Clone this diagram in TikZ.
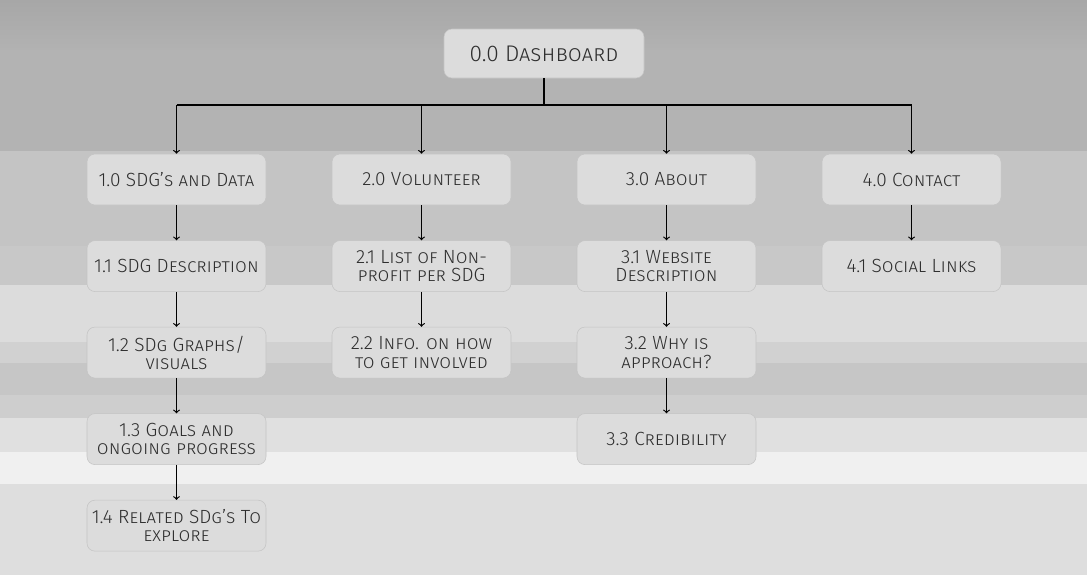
\documentclass[tikz,border=0pt]{standalone}
\usepackage{fontspec}
\setmainfont{Fira Sans Light}
\usetikzlibrary{positioning}
\definecolor{boxfill}{HTML}{DCDCDC}
\definecolor{boxline}{HTML}{C4C4C4}
\definecolor{boxtext}{HTML}{2E2E2E}

\tikzset{
  sitebox/.style={draw=boxline,fill=boxfill,rounded corners=6pt,align=center,
    text=boxtext,minimum width=134.25pt,minimum height=38.25pt,inner sep=2pt,
    font=\fontsize{14.3}{13.6}\selectfont\scshape},
  link/.style={line width=0.9pt,black}
}

\begin{document}
\begin{tikzpicture}[x=0.75pt,y=-0.75pt,>=to,node distance=26.25pt]
  % background bands
  \useasboundingbox (0,0) rectangle (1087,575);
  \shade[top color={rgb,255:red,167;green,167;blue,167},bottom color={rgb,255:red,178;green,178;blue,178}] (0,0) rectangle (1087,50);
  \foreach \ya/\yb/\g in {50/151/179,151/246/196,246/285/200,285/342/220,342/363/209,363/395/198,395/418/206,418/452/224,452/484/240,484/575/222}
    \fill[fill={rgb,255:red,\g;green,\g;blue,\g}] (0,\ya) rectangle (1087,\yb);

  % top level
  \node[sitebox,minimum width=150pt,minimum height=36.75pt,font=\fontsize{17}{17}\selectfont\scshape] (dash) at (544,53.5) {0.0 Dashboard};
  \coordinate (hub) at (544,105);

  % sections
  \node[sitebox] (sdg) at (176.5,179.5) {1.0 SDG's and Data};
  \node[sitebox] (vol) at (421.5,179.5) {2.0 Volunteer};
  \node[sitebox] (about) at (666.5,179.5) {3.0 About};
  \node[sitebox] (contact) at (911.5,179.5) {4.0 Contact};

  % sub pages
  \node[sitebox,below=of sdg] (sdgdesc) {1.1 SDG Description};
  \node[sitebox,below=of sdgdesc] (sdggraph) {1.2 SDg Graphs/\\visuals};
  \node[sitebox,below=of sdggraph] (sdggoal) {1.3 Goals and\\ongoing progress};
  \node[sitebox,below=of sdggoal] (sdgrel) {1.4 Related SDg's To\\explore};
  \node[sitebox,below=of vol] (vollist) {2.1 List of Non-\\profit per SDG};
  \node[sitebox,below=of vollist] (volinfo) {2.2 Info. on how\\to get involved};
  \node[sitebox,below=of about] (aboutweb) {3.1 Website\\Description};
  \node[sitebox,below=of aboutweb] (aboutwhy) {3.2 Why is\\approach?};
  \node[sitebox,below=of aboutwhy] (aboutcred) {3.3 Credibility};
  \node[sitebox,below=of contact] (social) {4.1 Social Links};

  % connectors
  \draw[link] (dash) -- (hub);
  \draw[link] (sdg |- hub) -- (contact |- hub);
  \foreach \n in {sdg,vol,about,contact}
    \draw[link,->] (\n |- hub) -- (\n);
  \draw[link,->] (sdg) -- (sdgdesc);
  \draw[link,->] (sdgdesc) -- (sdggraph);
  \draw[link,->] (sdggraph) -- (sdggoal);
  \draw[link,->] (sdggoal) -- (sdgrel);
  \draw[link,->] (vol) -- (vollist);
  \draw[link,->] (vollist) -- (volinfo);
  \draw[link,->] (about) -- (aboutweb);
  \draw[link,->] (aboutweb) -- (aboutwhy);
  \draw[link,->] (aboutwhy) -- (aboutcred);
  \draw[link,->] (contact) -- (social);
\end{tikzpicture}
\end{document}
